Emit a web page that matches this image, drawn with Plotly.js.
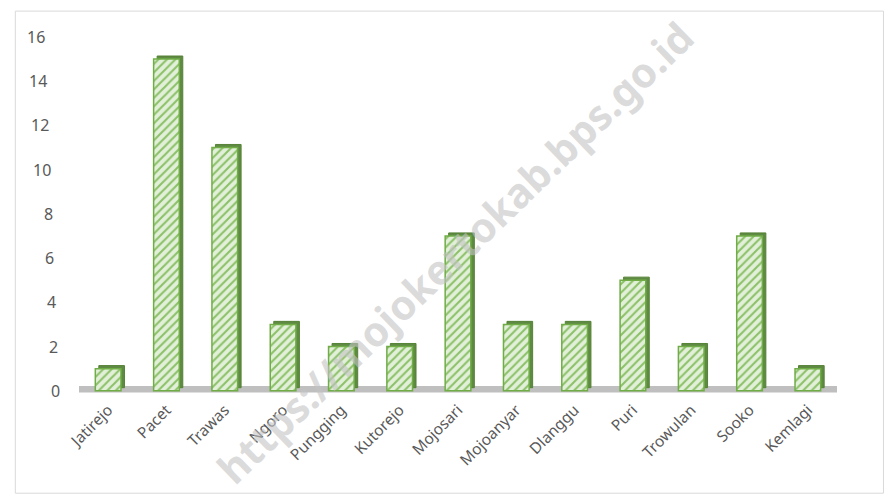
<!DOCTYPE html>
<html>
<head>
<meta charset="utf-8">
<script src="https://cdn.plot.ly/plotly-3.0.1.min.js"></script>
<style>
html,body{margin:0;padding:0;background:#fff;}
#chart{width:889px;height:497px;}
</style>
</head>
<body>
<div id="chart"></div>
<script>
const categories = ["Jatirejo","Pacet","Trawas","Ngoro","Pungging","Kutorejo","Mojosari","Mojoanyar","Dlanggu","Puri","Trowulan","Sooko","Kemlagi"];
const values = [1, 15, 11, 3, 2, 2, 7, 3, 3, 5, 2, 7, 1];
const yTicks = [0, 2, 4, 6, 8, 10, 12, 14, 16];
const watermark = "https://mojokertokab.bps.go.id";

const depth = values.map(() => 0.14);

const backTrace = {
  type: 'bar', x: categories, y: values, base: depth,
  width: 0.44, offset: -0.16,
  marker: {color: '#5f8a43', line: {color: '#548235', width: 1}},
  hoverinfo: 'skip', showlegend: false
};
const frontTrace = {
  type: 'bar', x: categories, y: values,
  width: 0.44, offset: -0.22,
  marker: {
    color: '#e2f0d9',
    pattern: {shape: '/', fgcolor: '#8cc168', bgcolor: '#e2f0d9', size: 6, solidity: 0.35},
    line: {color: '#70ad47', width: 1.5}
  },
  showlegend: false
};

// y tick labels drawn with a slight perspective slant, as in the 3-D original
const plotW = 758;
const tickAnnotations = yTicks.map(v => ({
  text: String(v), xref: 'paper', yref: 'y',
  x: (-32 + 15 * (1 - v / 16)) / plotW, y: v,
  xanchor: 'right', yanchor: 'middle', showarrow: false,
  font: {family: 'Noto Sans, sans-serif', size: 16, color: '#595959'}
}));

const layout = {
  width: 889, height: 497,
  margin: {l: 79, r: 52, t: 37, b: 104},
  paper_bgcolor: '#ffffff', plot_bgcolor: 'rgba(0,0,0,0)',
  barmode: 'overlay',
  font: {family: 'Noto Sans, sans-serif', color: '#595959'},
  xaxis: {
    type: 'category', range: [-0.5, 12.5], automargin: false,
    showgrid: false, zeroline: false, showline: false, ticks: '',
    tickangle: -45, ticklabelstandoff: 4,
    tickfont: {size: 15.5, color: '#595959'}
  },
  yaxis: {
    range: [-0.1, 16], automargin: false,
    showgrid: false, zeroline: false, showline: false, ticks: '',
    showticklabels: false
  },
  shapes: [
    {type: 'rect', xref: 'paper', yref: 'y', x0: 0, x1: 1, y0: -0.08, y1: 0.22,
     fillcolor: '#bfbfbf', line: {width: 0}, layer: 'below'},
    {type: 'rect', xref: 'paper', yref: 'paper', x0: -0.084, x1: 1.0613, y0: -0.2815, y1: 1.0727,
     fillcolor: 'rgba(0,0,0,0)', line: {color: '#d9d9d9', width: 1}}
  ],
  annotations: tickAnnotations.concat([
    {text: watermark, xref: 'paper', yref: 'paper', x: 0.496, y: 0.395,
     showarrow: false, textangle: -44,
     font: {family: 'Noto Sans, sans-serif', size: 41, color: 'rgba(195,195,195,0.6)', weight: 'bold'}}
  ])
};

Plotly.newPlot('chart', [backTrace, frontTrace], layout, {staticPlot: true});
</script>
</body>
</html>
